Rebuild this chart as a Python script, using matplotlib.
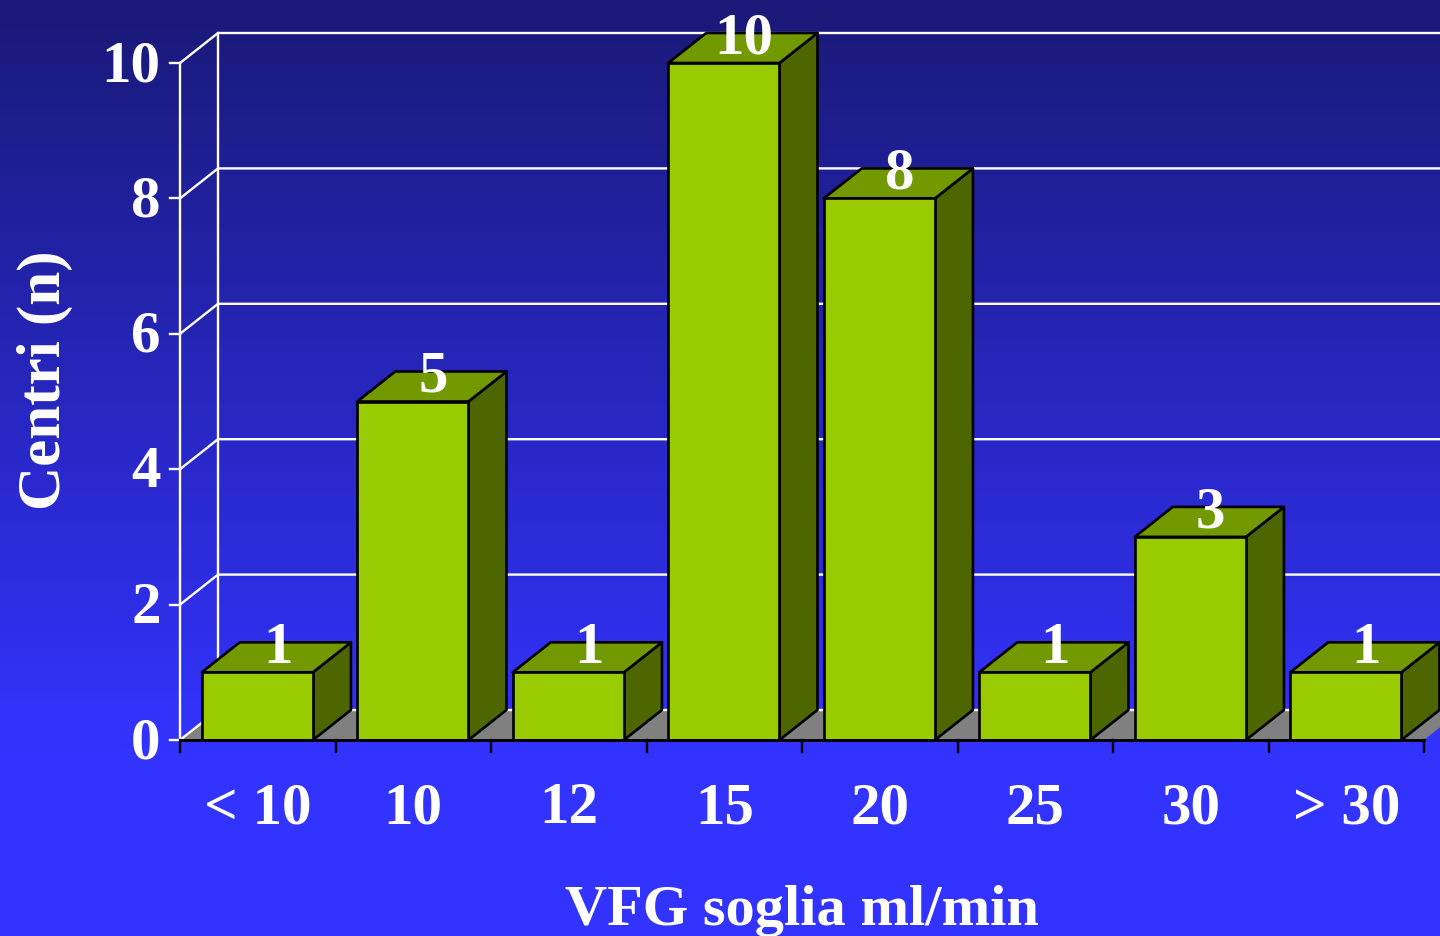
import numpy as np
import matplotlib
matplotlib.use("Agg")
import matplotlib.pyplot as plt
from matplotlib.colors import LinearSegmentedColormap
from matplotlib.patches import Polygon

categories = ["< 10", "10", "12", "15", "20", "25", "30", "> 30"]
values = [1, 5, 1, 10, 8, 1, 3, 1]
y_ticks = [0, 2, 4, 6, 8, 10]
x_title = "VFG soglia ml/min"
y_title = "Centri (n)"

W, H = 1440, 936
plt.rcParams["font.family"] = ["Liberation Serif", "DejaVu Serif"]
plt.rcParams["font.weight"] = "bold"
fig = plt.figure(figsize=(14.4, 9.36), dpi=100)

bg = fig.add_axes([0, 0, 1, 1], zorder=0)
bg.axis("off")
cmap = LinearSegmentedColormap.from_list("bg", [(0, "#191977"), (0.8, "#3333ff"), (1, "#3333ff")])
bg.imshow(np.linspace(0, 1, 256).reshape(-1, 1), aspect="auto", cmap=cmap, extent=[0, 1, 0, 1])

left, right, y0, y10 = 180, 1424, 740, 63
ax = fig.add_axes([left / W, 1 - y0 / H, (right - left) / W, (y0 - y10) / H], zorder=1)
ax.set_xlim(0, len(categories))
ax.set_ylim(0, 10)
ax.patch.set_visible(False)
for s in ax.spines.values():
    s.set_visible(False)
ax.set_xticks([])
ax.set_yticks([])

dx = 38 / ((right - left) / len(categories))
dy = 30 / ((y0 - y10) / 10)
n = len(categories)
WHITE = "white"
lw = 1.7
FS = 42.5

# floor
ax.add_patch(Polygon([(0, 0), (dx, dy), (n + dx, dy), (n, 0)], fc="#808080", ec="none", clip_on=False, zorder=1))
# walls
for t in y_ticks:
    ax.plot([0, dx, n + dx], [t, t + dy, t + dy], color=WHITE, lw=lw, clip_on=False, zorder=2)
    ax.plot([-10 / 155.5, 0], [t, t], color=WHITE, lw=lw, clip_on=False, zorder=2)
ax.plot([0, 0], [0, 10], color=WHITE, lw=lw, clip_on=False, zorder=2)
ax.plot([dx, dx], [dy, 10 + dy], color=WHITE, lw=lw, clip_on=False, zorder=2)
ax.plot([0, n], [0, 0], color="black", lw=2.1, clip_on=False, zorder=6)
for i in range(n + 1):
    ax.plot([i, i], [0, -12 / 67.7], color="black", lw=1.7, clip_on=False, zorder=6)

# bars
bw = 0.715
off = 0.14
for i, v in enumerate(values):
    a, b = i + off, i + off + bw
    kw = dict(ec="black", lw=1.9, clip_on=False, joinstyle="round", zorder=3 + i * 0.01)
    ax.add_patch(Polygon([(b, 0), (b + dx, dy), (b + dx, v + dy), (b, v)], fc="#4d6600", **kw))
    ax.add_patch(Polygon([(a, v), (a + dx, v + dy), (b + dx, v + dy), (b, v)], fc="#739900", **kw))
    ax.add_patch(Polygon([(a, 0), (b, 0), (b, v), (a, v)], fc="#99cc00", **kw))
for i, v in enumerate(values):
    ax.annotate(str(v), (i + off + bw / 2, v), xytext=(14.5, 17), textcoords="offset points",
                ha="center", va="center", color=WHITE, fontsize=FS, fontweight="bold",
                annotation_clip=False, zorder=7)

# tick labels
for i, c in enumerate(categories):
    ax.annotate(c, (i + 0.5, 0), xytext=(0, -50), textcoords="offset points", ha="center", va="center",
                color=WHITE, fontsize=FS, fontweight="bold", annotation_clip=False)
for t in y_ticks:
    ax.annotate(str(t), (0, t), xytext=(-14, -3), textcoords="offset points", ha="right", va="center",
                color=WHITE, fontsize=FS, fontweight="bold", annotation_clip=False)

fig.text(802 / W, 1 - 911 / H, x_title, ha="center", va="center", color=WHITE, fontsize=42, fontweight="bold", zorder=5)
fig.text(45 / W, 1 - 380 / H, y_title, ha="center", va="center", rotation=90, color=WHITE, fontsize=44, fontweight="bold", zorder=5)

fig.savefig("out.png", dpi=100)
